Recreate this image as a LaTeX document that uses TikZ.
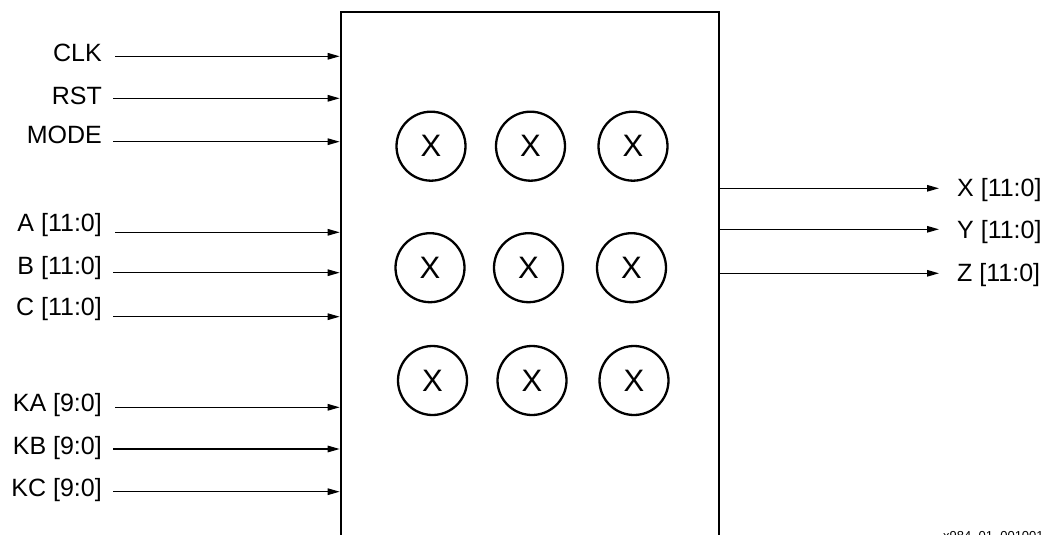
\documentclass[tikz,border=0pt]{standalone}
\usepackage{fontspec}
\setmainfont{Liberation Sans}
\usetikzlibrary{arrows.meta}
\begin{document}
\begin{tikzpicture}[x=1pt,y=-1pt,
  sig/.style={font=\fontsize{25}{30}\selectfont, inner sep=0pt},
  mult/.style={circle, draw, line width=2.3pt, minimum size=69pt, inner sep=0pt, font=\fontsize{31}{36}\selectfont},
  wire/.style={line width=1.3pt, -{Triangle[length=12pt,width=6.5pt]}},
  blk/.style={draw, line width=2.7pt, rectangle, minimum width=378pt, minimum height=560pt, inner sep=0pt, anchor=north west}
]
\useasboundingbox (0,0) rectangle (1061,535);
\node[blk] (box) at (339.7,10.7) {};

% input labels
\node[sig, anchor=base east] (clk)  at (102,61.7) {CLK};
\node[sig, anchor=base east] (rst)  at (102,104) {RST};
\node[sig, anchor=base east] (mode) at (102,143) {MODE};
\node[sig, anchor=base east] (a)    at (102,231.7) {A [11:0]};
\node[sig, anchor=base east] (b)    at (102,274) {B [11:0]};
\node[sig, anchor=base east] (c)    at (102,315) {C [11:0]};
\node[sig, anchor=base east] (ka)   at (102,411.7) {KA [9:0]};
\node[sig, anchor=base east] (kb)   at (102,454) {KB [9:0]};
\node[sig, anchor=base east] (kc)   at (102,496.7) {KC [9:0]};

% input wire starts
\coordinate (iclk)  at (115,56.3);
\coordinate (irst)  at (113,98.3);
\coordinate (imode) at (113,141.7);
\coordinate (ia)    at (115,232.3);
\coordinate (ib)    at (113,272.7);
\coordinate (ic)    at (113,316.7);
\coordinate (ika)   at (115,407.3);
\coordinate (ikb)   at (113,449);
\coordinate (ikc)   at (113,491.7);
\foreach \s in {iclk,irst,imode,ia,ib,ic,ika,ikb,ikc}
  \draw[wire] (\s) -- (\s -| box.west);

% outputs
\coordinate (ox) at (0,188.3);
\coordinate (oy) at (0,229.3);
\coordinate (oz) at (0,273.3);
\node[sig, anchor=base west] (xl) at (957,196.7) {X [11:0]};
\node[sig, anchor=base west] (yl) at (957,238) {Y [11:0]};
\node[sig, anchor=base west] (zl) at (957,281.7) {Z [11:0]};
\coordinate (tx) at (939,188.3);
\coordinate (ty) at (939,229.3);
\coordinate (tz) at (939,273.3);
\draw[wire] (ox -| box.east) -- (tx);
\draw[wire] (oy -| box.east) -- (ty);
\draw[wire] (oz -| box.east) -- (tz);

% multipliers
\node[mult] (m11) at (431,146.2) {X};
\node[mult] (m12) at (530.5,146.2) {X};
\node[mult] (m13) at (633,146.2) {X};
\node[mult] (m21) at (430,267.7) {X};
\node[mult] (m22) at (528.5,267.7) {X};
\node[mult] (m23) at (631.5,267.7) {X};
\node[mult] (m31) at (432.5,380.5) {X};
\node[mult] (m32) at (532,380.5) {X};
\node[mult] (m33) at (634,380.5) {X};

% figure id (cut off at page edge)
\node[font=\fontsize{13}{15}\selectfont, anchor=north west, inner sep=0pt] (fid) at (943,531.5) {x984\_01\_001001};
\end{tikzpicture}
\end{document}
